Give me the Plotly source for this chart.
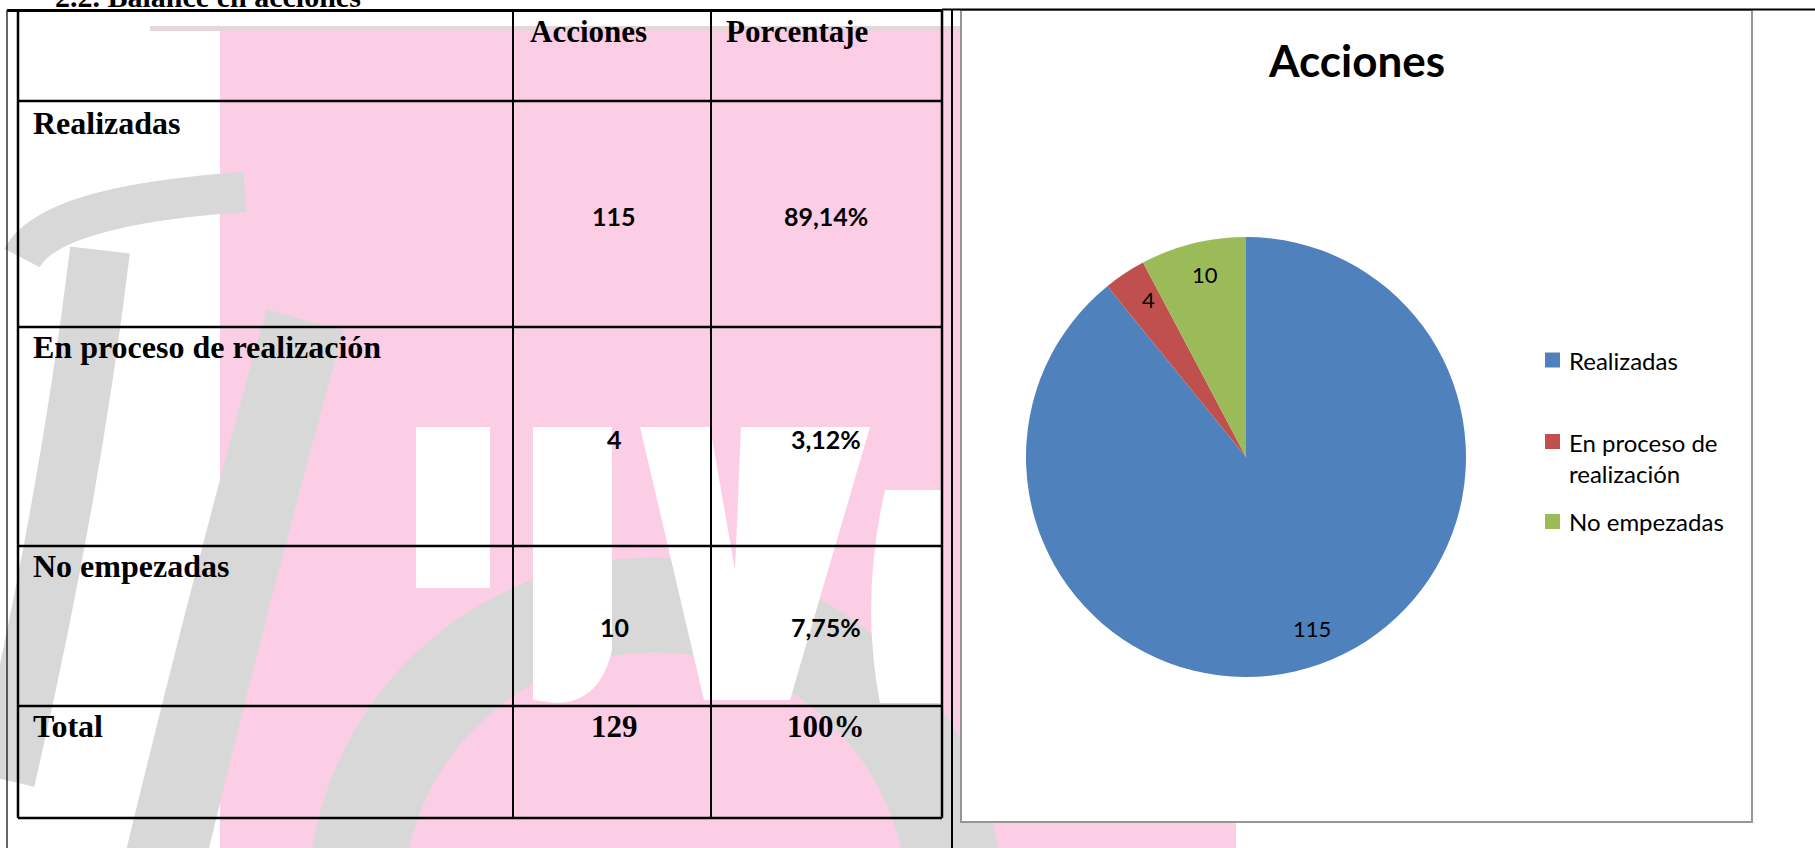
import math
import plotly.graph_objects as go

# ---------------- data ----------------
categories = ["Realizadas", "En proceso de realización", "No empezadas"]
acciones = [115, 4, 10]
porcentajes = ["89,14%", "3,12%", "7,75%"]
total_label = "Total"
total_acciones = 129
total_pct = "100%"
header_labels = ["Acciones", "Porcentaje"]
chart_title = "Acciones"
doc_heading = "2.2. Balance en acciones"
slice_colors = ["#4F81BD", "#C0504D", "#9BBB59"]

# ---------------- layout constants (pixels) ----------------
W, H = 1815, 848
ROW_LINES = [101, 327, 546, 706, 818]
COL_LINES = [513, 711]
TABLE_L, TABLE_R, TABLE_T, TABLE_B = 18, 942, 10, 818
LABEL_X = 31
LABEL_Y = [123, 347, 566]
TOTAL_Y = 726
HEADER_Y = 31
HEADER_X = [528, 724]
VALUE_X = [614, 826]
VALUE_Y = [216, 439, 627]

SERIF = "Liberation Serif"
SANS = "Lato"
PINK = "rgb(252,206,230)"
GRAY = "rgb(216,216,216)"

fig = go.Figure()
fig.add_trace(go.Scatter(x=[], y=[], showlegend=False, hoverinfo="skip"))

# pie
cx, cy, r = 1246, 457, 220
fig.add_trace(go.Pie(
    labels=categories, values=acciones, sort=False, direction="clockwise", rotation=0,
    marker=dict(colors=slice_colors, line=dict(width=0)),
    textinfo="none",
    domain=dict(x=[(cx - r) / W, (cx + r) / W], y=[(H - cy - r) / H, (H - cy + r) / H]),
    showlegend=False, hoverinfo="label+value",
))

shapes = []
def rect(x0, y0, x1, y1, fill, line_color=None, lw=0):
    shapes.append(dict(type="rect", xref="x", yref="y", x0=x0, y0=y0, x1=x1, y1=y1,
                       fillcolor=fill, line=dict(color=line_color or fill, width=lw),
                       layer="below"))
def line(x0, y0, x1, y1, w=2, color="black"):
    shapes.append(dict(type="line", xref="x", yref="y", x0=x0, y0=y0, x1=x1, y1=y1,
                       line=dict(color=color, width=w), layer="below"))
def path(d, fill=None, stroke=None, w=0):
    s = dict(type="path", xref="x", yref="y", path=d, layer="below",
             line=dict(color=stroke or "rgba(0,0,0,0)", width=w))
    if fill:
        s["fillcolor"] = fill
    shapes.append(s)

# ----- watermark -----
rect(220, 29, 1236, H + 5, PINK)
rect(150, 26, 1236, 31, "rgb(230,214,220)")
path("M 22,258 Q 50,205 245,192", stroke=GRAY, w=40)
path("M 100,250 Q 70,500 5,780", stroke=GRAY, w=60)
path("M 305,320 Q 235,570 165,860", stroke=GRAY, w=80)
shapes.append(dict(type="circle", xref="x", yref="y", x0=655 - 300, y0=905 - 300,
                   x1=655 + 300, y1=905 + 300, line=dict(color=GRAY, width=95),
                   layer="below"))
# white letters
rect(416, 427, 490, 588, "white")
path("M 533,427 L 612,427 L 612,650 Q 600,703 555,703 L 533,700 Z", fill="white")
path("M 640,427 L 710,427 L 735,570 L 741,427 L 870,427 L 790,700 L 704,700 Z", fill="white")
path("M 885,490 L 941,490 L 941,703 L 880,703 Q 860,600 885,490 Z", fill="white")

# ----- chart frame -----
rect(961, 10, 1752, 822, "white", "rgb(150,150,150)", 2)

# ----- table lines -----
line(7, 10.5, TABLE_R, 10.5, 3)
line(TABLE_R, 9.5, W, 9.5, 2)
line(7, 10, 7, H, 1.2)
line(TABLE_L, TABLE_T, TABLE_L, TABLE_B, 2.5)
line(TABLE_R, TABLE_T, TABLE_R, TABLE_B, 2.5)
line(952, TABLE_T, 952, H, 2)
for yv in ROW_LINES:
    line(TABLE_L, yv, TABLE_R, yv, 2.5)
for xv in COL_LINES:
    line(xv, TABLE_T, xv, TABLE_B, 2)

# ----- legend squares -----
LEG_SQ_X = 1545
LEG_TXT_X = 1567
LEG_Y = [360, 441.5, 521.5]
LEG_TXT_Y = [360, 457.5, 521.5]
for yv, col in zip(LEG_Y, slice_colors):
    rect(LEG_SQ_X, yv - 7.5, LEG_SQ_X + 15, yv + 7.5, col)

annotations = []
def ann(text, x, y, size, family, xanchor="left", align="left", color="black"):
    annotations.append(dict(text=text, x=x, y=y, xref="x", yref="y", showarrow=False,
                            xanchor=xanchor, yanchor="middle", align=align,
                            font=dict(family=family, size=size, color=color)))

# heading partly cut off at the top of the page (as in the reference)
annotations.append(dict(text="<b>" + doc_heading + "</b>", x=53 / W, y=1 + 3 / H,
                        xref="paper", yref="paper", showarrow=False, xanchor="left",
                        yanchor="middle", font=dict(family=SERIF, size=30, color="black")))
for hx, h in zip(HEADER_X, header_labels):
    ann("<b>" + h + "</b>", hx, HEADER_Y, 31, SERIF)
for yv, c in zip(LABEL_Y, categories):
    ann("<b>" + c + "</b>", LABEL_X, yv, 32, SERIF)
ann("<b>" + total_label + "</b>", LABEL_X, TOTAL_Y, 32, SERIF)
for yv, a, p in zip(VALUE_Y, acciones, porcentajes):
    ann("<b>" + str(a) + "</b>", VALUE_X[0], yv, 25, SANS, xanchor="center", align="center")
    ann("<b>" + p + "</b>", VALUE_X[1], yv, 25, SANS, xanchor="center", align="center")
ann("<b>" + str(total_acciones) + "</b>", VALUE_X[0], TOTAL_Y, 31, SERIF, xanchor="center", align="center")
ann("<b>" + total_pct + "</b>", VALUE_X[1], TOTAL_Y, 31, SERIF, xanchor="center", align="center")

ann("<b>" + chart_title + "</b>", 1356, 60, 44, SANS, xanchor="center", align="center")

# pie data labels, placed along each slice's middle angle
tot = sum(acciones)
cum = 0
for v in acciones:
    theta = 2 * math.pi * (cum + v / 2) / tot
    cum += v
    ann(str(v), cx + 0.84 * r * math.sin(theta) + 4, cy - 0.84 * r * math.cos(theta) - 3, 22, SANS,
        xanchor="center", align="center")

def wrap(t, n=16):
    words, lines, cur = t.split(" "), [], ""
    for w in words:
        if cur and len(cur) + 1 + len(w) > n:
            lines.append(cur)
            cur = w
        else:
            cur = (cur + " " + w).strip()
    lines.append(cur)
    return "<br>".join(lines)

for yv, c in zip(LEG_TXT_Y, categories):
    ann(wrap(c), LEG_TXT_X, yv, 24, SANS)

fig.update_layout(
    width=W, height=H, margin=dict(l=0, r=0, t=0, b=0),
    paper_bgcolor="white", plot_bgcolor="white",
    xaxis=dict(range=[0, W], visible=False, fixedrange=True, domain=[0, 1]),
    yaxis=dict(range=[H, 0], visible=False, fixedrange=True, domain=[0, 1]),
    shapes=shapes, annotations=annotations, showlegend=False,
)
fig.write_html("out.html", config={"displayModeBar": False},
               post_script="document.body.style.margin='0';")
